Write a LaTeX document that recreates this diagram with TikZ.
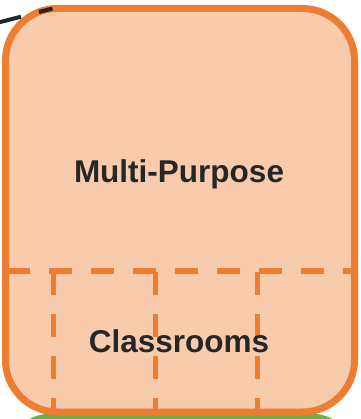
\documentclass[tikz,border=0pt]{standalone}
\usepackage{fontspec}
\setmainfont{Liberation Sans}
\definecolor{peach}{HTML}{F8CBAD}
\definecolor{orangeedge}{HTML}{ED7D31}
\definecolor{stagegreen}{HTML}{70AD47}
\definecolor{labeltext}{HTML}{262626}
\begin{document}
\begin{tikzpicture}[x=1pt,y=-1pt,
  roombox/.style={draw=orangeedge, fill=peach, line width=7pt, rounded corners=52pt,
    rectangle, minimum width=349pt, minimum height=403.5pt, inner sep=0pt},
  greenbox/.style={fill=stagegreen, rectangle, rounded corners=50pt,
    minimum width=358pt, minimum height=120pt, inner sep=0pt},
  splitline/.style={draw=orangeedge, line width=5.5pt, dash pattern=on 23pt off 19pt},
  wallline/.style={draw=orangeedge, line width=5pt, dash pattern=on 23pt off 19pt},
  linkline/.style={draw=black!85, line width=4pt, dash pattern=on 22pt off 18.6pt, dash phase=8pt},
  roomlabel/.style={text=labeltext, font=\fontsize{31.5}{36}\selectfont\bfseries, anchor=base, inner sep=0pt}
]
\useasboundingbox (0,0) rectangle (360,419);
\clip (0,0) rectangle (360,419);
\node[greenbox] (stage) at (181,473.5) {};
\node[roombox] (room) at (180,210.25) {};
\coordinate (splitL) at (7,271);
\coordinate (splitR) at (355,271);
\draw[splitline] (splitL) -- (splitR);
\coordinate (wallAtop) at (53,272);
\coordinate (wallAbot) at (53,412);
\coordinate (wallBtop) at (155,272);
\coordinate (wallBbot) at (155,412);
\coordinate (wallCtop) at (257,272);
\coordinate (wallCbot) at (257,412);
\draw[wallline] (wallAtop) -- (wallAbot);
\draw[wallline] (wallBtop) -- (wallBbot);
\draw[wallline] (wallCtop) -- (wallCbot);
\node[roomlabel] (multi) at (179,182.5) {Multi-Purpose};
\node[roomlabel] (class) at (179,352.5) {Classrooms};
\coordinate (hit) at (52.5,8.5);
\coordinate (ext) at (-24.9,28.6);
\draw[linkline] (hit) -- (ext);
\end{tikzpicture}
\end{document}
